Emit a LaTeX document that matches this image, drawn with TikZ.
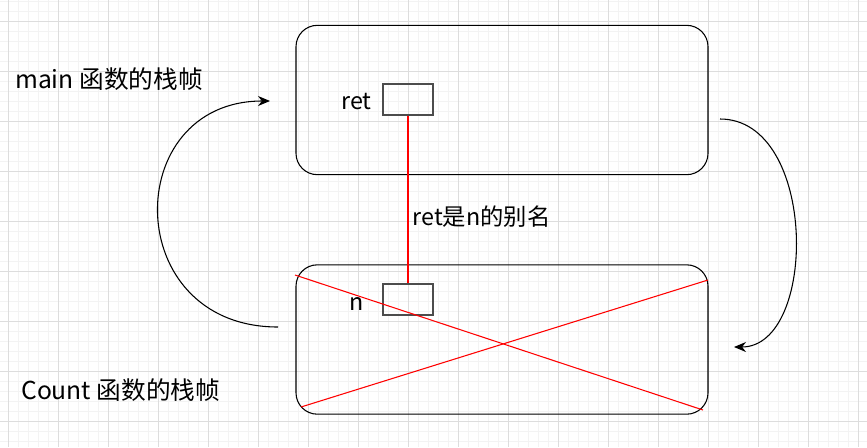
\documentclass[tikz,border=0pt]{standalone}
\usepackage{fontspec}
\setmainfont{Noto Sans CJK SC}
\usetikzlibrary{arrows.meta, positioning}
\definecolor{gridminor}{HTML}{F3F3F3}
\definecolor{gridmajor}{HTML}{DDDDDD}
\definecolor{xred}{HTML}{FF0000}
\tikzset{%
  >={Stealth[length=9pt,width=7.5pt]},
  % Specifications for style of nodes:
	stackframe/.style = {draw, thick, rounded corners=16pt, minimum width=309pt, minimum height=112pt},
	cell/.style = {draw=black!70, thick, minimum width=37.5pt, minimum height=23.25pt, inner sep=0pt},
	varlabel/.style = {font=\fontsize{17.5}{20}\selectfont, text=black, inner sep=0pt},
	framelabel/.style = {font=\fontsize{18.5}{22}\selectfont, inner sep=0pt, anchor=west},
	flow/.style={->, draw, black, thick},
	alias/.style={draw, xred, thick},
}

\begin{document}
\begin{tikzpicture}[x=0.75pt, y=-0.75pt, node distance=8pt]
  \useasboundingbox (0,0) rectangle (867,447);
  % background grid
  \foreach \i in {0,...,85} \draw[gridminor] (8.3+10*\i,0) -- (8.3+10*\i,447);
  \foreach \j in {0,...,44} \draw[gridminor] (0,1.5+10*\j) -- (867,1.5+10*\j);
  \foreach \i in {0,...,17} \draw[gridmajor] (8.3+50*\i,0) -- (8.3+50*\i,447);
  \foreach \j in {0,...,8} \draw[gridmajor] (0,21.5+50*\j) -- (867,21.5+50*\j);

  % the two stack frames
  \node (mainframe) [stackframe] at (502,100) {};
  \node (countframe) [stackframe] at (502,339.5) {};
  \node (maintitle) [framelabel] at (15,79) {main 函数的栈帧};
  \node (counttitle) [framelabel] at (21,390) {Count 函数的栈帧};

  \node (retbox) [cell] at (408,99.5) {};
  \node (nbox) [cell] at (408,299.5) {};
  \node (retname) [varlabel, left=8pt of retbox, yshift=-1.5pt] {ret};
  \node (nname) [varlabel, left=14pt of nbox, yshift=-3.5pt] {n};

  \draw [alias] (retbox.south) -- node [varlabel, right=3pt, pos=0.6] {ret是n的别名} (nbox.north);

  % cross over the Count frame
  \coordinate (x1) at (295,275);
  \coordinate (x2) at (703,410);
  \coordinate (x3) at (708,280);
  \coordinate (x4) at (301,407);
  \draw [alias] (x1) -- (x2);
  \draw [alias] (x3) -- (x4);

  % call and return
  \coordinate (c1) at (278,327);
  \coordinate (c2) at (270,101);
  \coordinate (c3) at (720,119);
  \coordinate (c4) at (734,347);
  \draw [flow] (c1) .. controls (120,327) and (120,101) .. (c2);
  \draw [flow] (c3) .. controls (818,119) and (818,347) .. (c4);
\end{tikzpicture}
\end{document}
